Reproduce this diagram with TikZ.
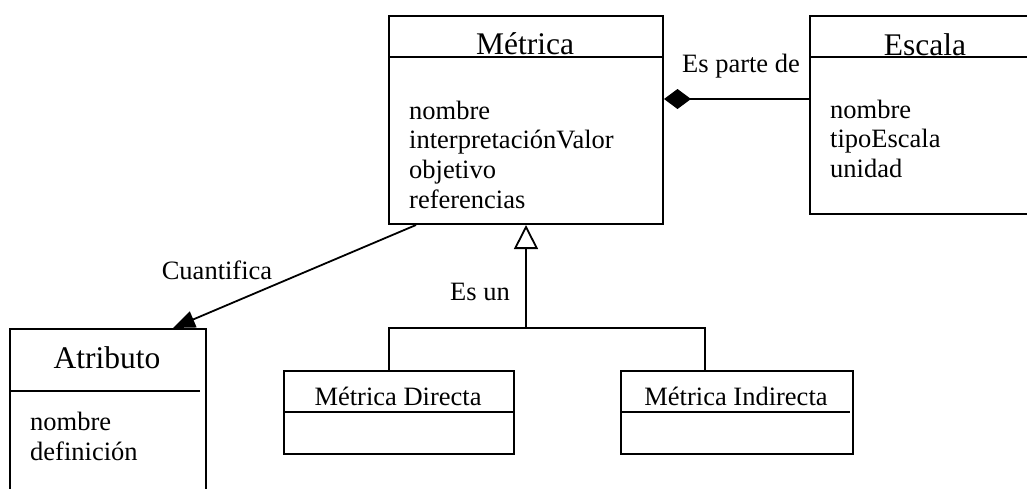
\documentclass[tikz,border=0pt]{standalone}
\usepackage{fontspec}
\setmainfont{Liberation Serif}
\usetikzlibrary{arrows.meta}

\tikzset{
  classbox/.style={draw, line width=2pt, inner sep=0pt, anchor=north west},
  title/.style={inner sep=0pt, anchor=base, font=\fontsize{31.5}{36}\selectfont},
  attr/.style={inner sep=0pt, anchor=base west, font=\fontsize{26.5}{30}\selectfont},
  lbl/.style={inner sep=0pt, anchor=base, font=\fontsize{26.5}{30}\selectfont},
  link/.style={line width=1.8pt},
}

\begin{document}
\begin{tikzpicture}[x=1pt, y=-1pt]
    \clip (0,0) rectangle (1027,488);
    \fill[white] (0,0) rectangle (1027,488);

    % class boxes
    \node[classbox, minimum width=274pt, minimum height=208pt] (metrica) at (388,15) {};
    \node[classbox, minimum width=232pt, minimum height=198pt] (escala) at (809,15) {};
    \node[classbox, minimum width=196pt, minimum height=210pt] (atributo) at (9,328) {};
    \node[classbox, minimum width=230pt, minimum height=83pt] (directa) at (283,370) {};
    \node[classbox, minimum width=232pt, minimum height=83pt] (indirecta) at (620,370) {};

    % dividers
    \draw[link] (metrica.west |- 0,57) -- (metrica.east |- 0,57);
    \draw[link] (escala.west |- 0,57) -- (escala.east |- 0,57);
    \draw[link] (atributo.west |- 0,391) -- (200,391);
    \draw[link] (directa.west |- 0,412) -- (directa.east |- 0,412);
    \draw[link] (indirecta.west |- 0,412) -- (850,412);

    % titles
    \node[title] (metrica-t) at (525,54) {Métrica};
    \node[title] (escala-t) at (925,55) {Escala};
    \node[title] (atributo-t) at (107,368) {Atributo};
    \node[lbl] (directa-t) at (398,405) {Métrica Directa};
    \node[lbl] (indirecta-t) at (736,405) {Métrica Indirecta};

    % attributes
    \foreach \a [count=\i from 0] in {nombre, interpretaciónValor, objetivo, referencias}
        \node[attr] (m\i) at (409, 119+29.7*\i) {\a};
    \foreach \a [count=\i from 0] in {nombre, tipoEscala, unidad}
        \node[attr] (e\i) at (830, 118+29.7*\i) {\a};
    \foreach \a [count=\i from 0] in {nombre, definición}
        \node[attr] (a\i) at (30, 430+30*\i) {\a};

    % relations
    \draw[link, -{Diamond[length=27pt,width=20pt]}] (escala.west |- 0,99) -- (metrica.east |- 0,99);
    \node[lbl] (parte) at (741,72) {Es parte de};

    \draw[link, -{Triangle[length=22pt,width=17pt]}] ([xshift=-110pt]metrica.south) -- ([xshift=65pt]atributo.north);
    \node[lbl] (cuantifica) at (217,279) {Cuantifica};

    \coordinate (fork) at (526,328);
    \draw[link, -{Triangle[open,length=24pt,width=24pt]}] (fork) -- (fork |- metrica.south);
    \draw[link] ([xshift=-10pt]directa.north) |- (fork) -| ([xshift=-32pt]indirecta.north);
    \node[lbl] (esun) at (480,300) {Es un};
\end{tikzpicture}
\end{document}
